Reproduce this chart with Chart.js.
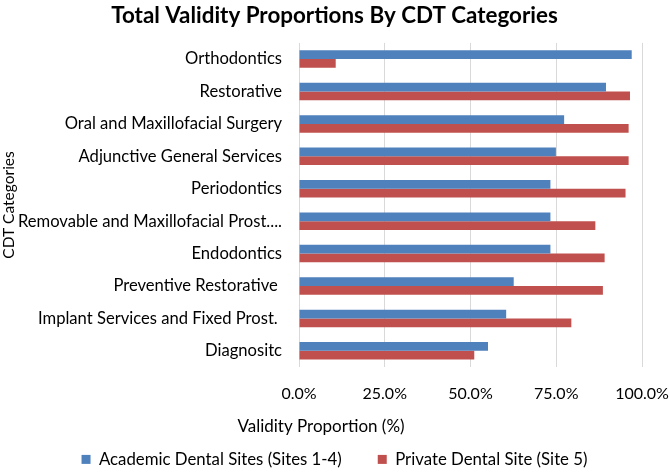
<!DOCTYPE html>
<html>
<head>
<meta charset="utf-8">
<script src="https://cdn.jsdelivr.net/npm/chart.js@4"></script>
<style>
  html, body { margin: 0; padding: 0; background: #fff; }
  #wrap { width: 669px; height: 472px; }
</style>
</head>
<body>
<div id="wrap"><canvas id="c" width="669" height="472"></canvas></div>
<script>
const categories = [
  "Orthodontics",
  "Restorative",
  "Oral and Maxillofacial Surgery",
  "Adjunctive General Services",
  "Periodontics",
  "Removable and Maxillofacial Prost....",
  "Endodontics",
  "Preventive Restorative ",
  "Implant Services and Fixed Prost. ",
  "Diagnositc"
];
const academicValues = [97.0, 89.5, 77.3, 74.9, 73.3, 73.3, 73.3, 62.6, 60.4, 55.1];
const privateValues  = [10.7, 96.5, 96.1, 96.1, 95.2, 86.4, 89.1, 88.6, 79.4, 51.1];
const xTicks = [0, 25, 50, 75, 100];
const seriesNames = ["Academic Dental Sites (Sites 1-4)", "Private Dental Site (Site 5)"];
const xAxisTitle = "Validity Proportion (%)";
const yAxisTitle = "CDT Categories";

const FONT = "Lato, 'Liberation Sans', sans-serif";

// Draws the x axis title centred like the original (not centred on the plot area)
const xTitlePlugin = {
  id: 'xTitle',
  afterDraw(chart) {
    const ctx = chart.ctx;
    ctx.save();
    ctx.fillStyle = '#000';
    ctx.font = "17px " + FONT;
    ctx.textAlign = 'center';
    ctx.textBaseline = 'middle';
    ctx.fillText(xAxisTitle, 321, 427);
    ctx.restore();
  }
};

// Keeps the legend row compact while allowing wide spacing between its items
const legendFitPlugin = {
  id: 'legendFit',
  afterInit(chart) {
    const lg = chart.legend;
    if (!lg) return;
    const orig = lg.fit.bind(lg);
    lg.fit = function () { orig(); this.height = 57; };
  }
};

new Chart(document.getElementById('c'), {
  type: 'bar',
  data: {
    labels: categories,
    datasets: [
      { label: seriesNames[0], data: academicValues, backgroundColor: '#4F81BD', borderWidth: 0,
        categoryPercentage: 0.54, barPercentage: 1.0 },
      { label: seriesNames[1], data: privateValues, backgroundColor: '#C0504D', borderWidth: 0,
        categoryPercentage: 0.54, barPercentage: 1.0 }
    ]
  },
  plugins: [xTitlePlugin, legendFitPlugin],
  options: {
    indexAxis: 'y',
    responsive: false,
    animation: false,
    devicePixelRatio: 1,
    layout: { padding: { left: 0, right: 0, top: 0, bottom: 0 } },
    plugins: {
      title: {
        display: true,
        text: 'Total Validity Proportions By CDT Categories',
        color: '#000',
        font: { family: FONT, size: 22.4, weight: 'bold' },
        padding: { top: 2, bottom: 14 }
      },
      legend: {
        position: 'bottom',
        labels: {
          color: '#000',
          font: { family: FONT, size: 16.8 },
          boxWidth: 9, boxHeight: 9,
          padding: 36
        }
      },
      tooltip: { enabled: false }
    },
    scales: {
      x: {
        min: 0, max: 100,
        afterBuildTicks: (s) => { s.ticks = xTicks.map(v => ({ value: v })); },
        ticks: {
          color: '#000',
          font: { family: FONT, size: 16 },
          padding: 17,
          callback: (v) => Number(v).toFixed(1) + '%'
        },
        grid: { color: '#d9d9d9', lineWidth: 1, drawTicks: false },
        border: { display: false },
        title: { display: false, text: xAxisTitle },
        afterFit: (s) => { s.height = 48; s.paddingRight = 27; s.paddingLeft = 0; }
      },
      y: {
        ticks: {
          color: '#000',
          font: { family: FONT, size: 16.6 },
          padding: 17,
          autoSkip: false
        },
        grid: { display: false, drawTicks: false },
        border: { display: false },
        title: {
          display: true,
          text: yAxisTitle,
          color: '#000',
          font: { family: FONT, size: 15.5 },
          padding: { top: 0, bottom: 0 }
        },
        afterFit: (s) => { s.width = 299; }
      }
    }
  }
});
</script>
</body>
</html>
